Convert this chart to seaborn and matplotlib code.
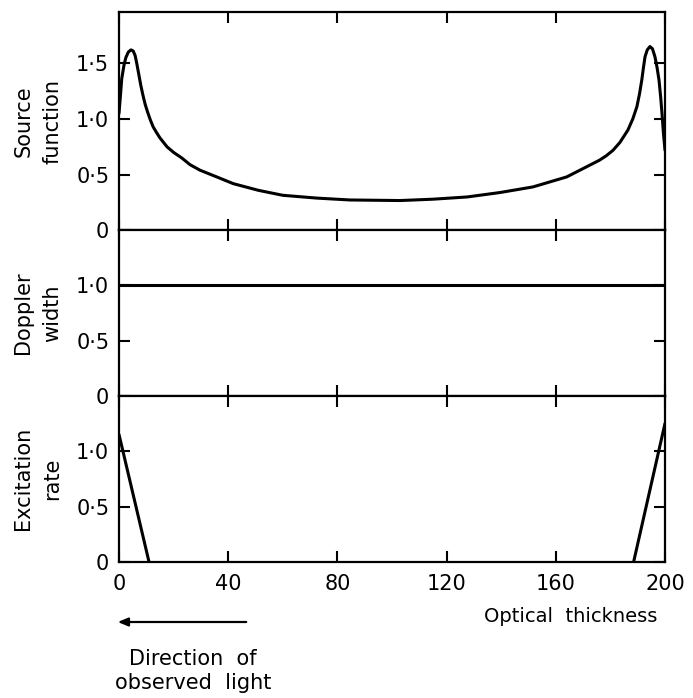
import matplotlib
matplotlib.use("Agg")
import matplotlib.pyplot as plt
import seaborn as sns

# ---- data ----
src_x = [0, 0.5, 1, 1.8, 2.5, 3.4, 4.4, 5.2, 5.9, 6.5, 7.1, 8, 8.8, 9.6, 10.5, 11.5,
         12.5, 13.7, 15, 16.3, 17.6, 20, 23, 26, 29.7, 35.8, 41.8, 51, 60, 72.4, 84.6,
         103, 115, 127.5, 139.6, 151.6, 164, 170, 176, 178.5, 181, 183.5, 186.4, 188.2,
         189.7, 190.7, 191.5, 192.1, 192.7, 193.5, 194.5, 195.4, 196.3, 197.1, 197.8,
         198.4, 198.9, 199.4, 200]
src_y = [1.05, 1.2, 1.36, 1.48, 1.55, 1.60, 1.62, 1.61, 1.57, 1.5, 1.42, 1.3, 1.21, 1.13,
         1.06, 0.99, 0.93, 0.88, 0.83, 0.79, 0.75, 0.70, 0.65, 0.59, 0.54, 0.48, 0.42,
         0.36, 0.315, 0.29, 0.273, 0.268, 0.28, 0.30, 0.34, 0.39, 0.48, 0.555, 0.63,
         0.67, 0.72, 0.79, 0.90, 1.0, 1.11, 1.23, 1.35, 1.46, 1.56, 1.62, 1.65, 1.63,
         1.56, 1.46, 1.35, 1.2, 1.05, 0.88, 0.72]
dop_x = [0, 200]
dop_y = [1.0, 1.0]
exc_left_x = [0, 11]
exc_left_y = [1.15, 0]
exc_right_x = [188.5, 200]
exc_right_y = [0, 1.25]

xticks = [0, 40, 80, 120, 160, 200]
xticklabels = ["0", "40", "80", "120", "160", "200"]
yticks_top = [0, 0.5, 1.0, 1.5]
yticklabels_top = ["0", "0·5", "1·0", "1·5"]
yticks = [0, 0.5, 1.0]
yticklabels = ["0", "0·5", "1·0"]
ylabels = ["Source\nfunction", "Doppler\nwidth", "Excitation\nrate"]

sns.set_style("ticks")
plt.rcParams["font.family"] = ["DejaVu Sans"]
for k in ["text.color", "axes.labelcolor", "xtick.color", "ytick.color", "axes.edgecolor"]:
    plt.rcParams[k] = "black"
fs = 15

fig = plt.figure(figsize=(6.93, 6.98), dpi=100)
gs = fig.add_gridspec(3, 1, height_ratios=[218, 165, 166], hspace=0,
                      left=119/693, right=665/693, top=1-12/698, bottom=1-562/698)
axes = [fig.add_subplot(gs[i]) for i in range(3)]

lw = 2.2
sns.lineplot(x=src_x, y=src_y, ax=axes[0], color="black", lw=lw, sort=False)
sns.lineplot(x=dop_x, y=dop_y, ax=axes[1], color="black", lw=lw)
sns.lineplot(x=exc_left_x, y=exc_left_y, ax=axes[2], color="black", lw=lw, sort=False)
sns.lineplot(x=exc_right_x, y=exc_right_y, ax=axes[2], color="black", lw=lw, sort=False)

ylims = [(0, 1.96), (0, 1.5), (0, 1.5)]
for i, ax in enumerate(axes):
    ax.set_xlim(0, 200)
    ax.set_ylim(*ylims[i])
    ax.set_xticks(xticks)
    if i == 0:
        ax.set_yticks(yticks_top)
        ax.set_yticklabels(yticklabels_top)
    else:
        ax.set_yticks(yticks)
        ax.set_yticklabels(yticklabels)
    ax.tick_params(direction="in", length=8, width=1.5, top=True, right=True,
                   labelsize=fs)
    ax.tick_params(axis="y", pad=7)
    ax.tick_params(axis="x", pad=9)
    for s in ax.spines.values():
        s.set_linewidth(1.6)
        s.set_visible(True)
    ax.set_ylabel(ylabels[i], fontsize=fs, linespacing=1.55)
    ax.yaxis.set_label_coords(-0.104, 0.5)
    if i < 2:
        ax.tick_params(labelbottom=False)
axes[2].set_xticklabels(xticklabels)

fig.text(657/693, 1-616/698, "Optical  thickness", fontsize=14, ha="right", va="center")

fig.text(193/693, 1-671/698, "Direction  of\nobserved  light", fontsize=fs,
         ha="center", va="center", linespacing=1.3)
fig.add_artist(matplotlib.patches.FancyArrowPatch(
    (249/693, 1-622/698), (115/693, 1-622/698), transform=fig.transFigure,
    arrowstyle="-|>,head_length=6,head_width=2.5", lw=1.6, color="black"))

fig.savefig("out.png", dpi=100, facecolor="white")
